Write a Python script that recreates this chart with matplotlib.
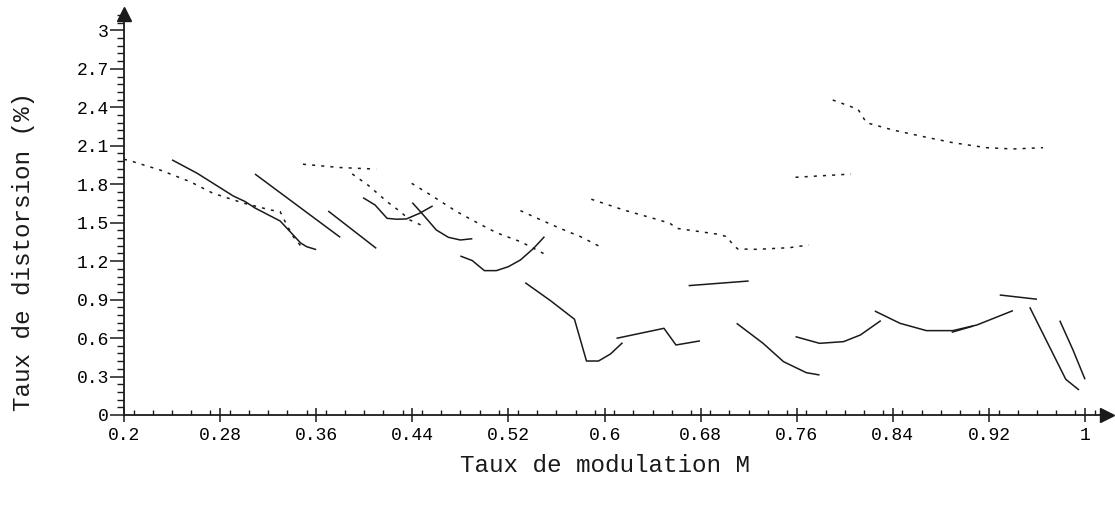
"""
Taux de distorsion en fonction du taux de modulation M
"""

import matplotlib
matplotlib.use('Agg')
import matplotlib.pyplot as plt
from matplotlib.ticker import MultipleLocator, FixedLocator
import numpy as np

plt.rcParams['font.family'] = ['Liberation Mono', 'DejaVu Sans Mono']

# courbes en trait plein (M, taux de distorsion %)
m_s1 = [0.240, 0.261, 0.291, 0.301, 0.309, 0.330, 0.337, 0.347, 0.352, 0.360]
d_s1 = [1.99, 1.885, 1.708, 1.664, 1.615, 1.513, 1.443, 1.342, 1.313, 1.29]
m_s2 = [0.309, 0.380]
d_s2 = [1.88, 1.386]
m_s3 = [0.370, 0.410]
d_s3 = [1.591, 1.30]
m_s4 = [0.399, 0.409, 0.419, 0.427, 0.435, 0.446, 0.457]
d_s4 = [1.695, 1.638, 1.534, 1.527, 1.529, 1.573, 1.631]
m_s5 = [0.440, 0.448, 0.460, 0.470, 0.480, 0.490]
d_s5 = [1.656, 1.573, 1.443, 1.386, 1.365, 1.375]
m_s6 = [0.480, 0.490, 0.500, 0.510, 0.520, 0.530, 0.541, 0.550]
d_s6 = [1.24, 1.204, 1.126, 1.126, 1.157, 1.209, 1.30, 1.391]
m_s7 = [0.534, 0.555, 0.575, 0.585, 0.595, 0.605, 0.615]
d_s7 = [1.032, 0.892, 0.747, 0.421, 0.421, 0.476, 0.564]
m_s8 = [0.610, 0.6495, 0.6595, 0.6795]
d_s8 = [0.598, 0.676, 0.546, 0.578]
m_s9 = [0.670, 0.720]
d_s9 = [1.009, 1.045]
m_s10 = [0.710, 0.732, 0.749, 0.768, 0.779]
d_s10 = [0.715, 0.559, 0.416, 0.33, 0.312]
m_s11 = [0.759, 0.779, 0.799, 0.813, 0.830]
d_s11 = [0.611, 0.559, 0.572, 0.624, 0.736]
m_s12 = [0.825, 0.846, 0.868, 0.890, 0.910, 0.940]
d_s12 = [0.811, 0.715, 0.658, 0.658, 0.702, 0.814]
m_s13 = [0.889, 0.907]
d_s13 = [0.645, 0.694]
m_s14 = [0.929, 0.960]
d_s14 = [0.936, 0.903]
m_s15 = [0.954, 0.984, 0.995]
d_s15 = [0.84, 0.278, 0.195]
m_s16 = [0.979, 0.990, 1.000]
d_s16 = [0.736, 0.507, 0.278]

# courbes en pointillé
m_p1 = [0.200, 0.2075, 0.230, 0.255, 0.274, 0.299, 0.3215, 0.330, 0.3355, 0.341, 0.3465, 0.349]
d_p1 = [1.995, 1.976, 1.911, 1.82, 1.73, 1.654, 1.60, 1.586, 1.482, 1.39, 1.326, 1.29]
m_p2 = [0.349, 0.380, 0.410]
d_p2 = [1.956, 1.93, 1.918]
m_p3 = [0.390, 0.403, 0.419, 0.430, 0.438, 0.449]
d_p3 = [1.88, 1.794, 1.664, 1.586, 1.521, 1.474]
m_p4 = [0.4395, 0.4575, 0.477, 0.496, 0.510, 0.530, 0.541, 0.550]
d_p4 = [1.807, 1.703, 1.586, 1.49, 1.422, 1.352, 1.30, 1.256]
m_p5 = [0.530, 0.546, 0.563, 0.580, 0.598]
d_p5 = [1.594, 1.526, 1.456, 1.391, 1.305]
m_p6 = [0.589, 0.616, 0.6435, 0.6545, 0.660, 0.693, 0.702, 0.707, 0.711, 0.727, 0.754, 0.770]
d_p6 = [1.683, 1.599, 1.526, 1.495, 1.456, 1.412, 1.391, 1.326, 1.295, 1.292, 1.305, 1.326]
m_p7 = [0.759, 0.805]
d_p7 = [1.854, 1.879]
m_p8 = [0.790, 0.811, 0.818, 0.840, 0.868, 0.890, 0.918, 0.940, 0.965]
d_p8 = [2.457, 2.385, 2.28, 2.223, 2.166, 2.124, 2.085, 2.075, 2.085]

x_ticks = [0.2, 0.28, 0.36, 0.44, 0.52, 0.6, 0.68, 0.76, 0.84, 0.92, 1]
x_ticklabels = ['0.2', '0.28', '0.36', '0.44', '0.52', '0.6', '0.68', '0.76', '0.84', '0.92', '1']
y_ticks = [0, 0.3, 0.6, 0.9, 1.2, 1.5, 1.8, 2.1, 2.4, 2.7, 3]
y_ticklabels = ['0', '0.3', '0.6', '0.9', '1.2', '1.5', '1.8', '2.1', '2.4', '2.7', '3']

fig = plt.figure(figsize=(11.15, 5.08), dpi=100)
ax = fig.add_axes([0.1112, 0.1831, 0.8813, 0.7894])

solides = [(m_s1, d_s1), (m_s2, d_s2), (m_s3, d_s3), (m_s4, d_s4), (m_s5, d_s5),
           (m_s6, d_s6), (m_s7, d_s7), (m_s8, d_s8), (m_s9, d_s9), (m_s10, d_s10),
           (m_s11, d_s11), (m_s12, d_s12), (m_s13, d_s13), (m_s14, d_s14),
           (m_s15, d_s15), (m_s16, d_s16)]
pointilles = [(m_p1, d_p1), (m_p2, d_p2), (m_p3, d_p3), (m_p4, d_p4),
              (m_p5, d_p5), (m_p6, d_p6), (m_p7, d_p7), (m_p8, d_p8)]

for mx, dy in solides:
    ax.plot(mx, dy, color='#1a1a1a', lw=1.1, solid_capstyle='butt')
for mx, dy in pointilles:
    ax.plot(mx, dy, color='#1a1a1a', lw=1.1, linestyle=(0, (2, 4)))

xmax, ymax = 1.018, 3.128
ax.set_xlim(0.2, xmax)
ax.set_ylim(0, ymax)

# axes avec flèches
for s in ['top', 'right']:
    ax.spines[s].set_visible(False)
for s in ['left', 'bottom']:
    ax.spines[s].set_linewidth(1.3)
    ax.spines[s].set_color('#1a1a1a')
ax.plot([0.2], [ymax], marker='^', ms=10, color='#1a1a1a', clip_on=False)
ax.plot([xmax], [0], marker='>', ms=10, color='#1a1a1a', clip_on=False)

ax.xaxis.set_major_locator(FixedLocator(x_ticks))
ax.set_xticklabels(x_ticklabels)
ax.xaxis.set_minor_locator(MultipleLocator(0.016))
ax.yaxis.set_major_locator(FixedLocator(y_ticks))
ax.set_yticklabels(y_ticklabels)
ax.yaxis.set_minor_locator(MultipleLocator(0.06))

ax.tick_params(axis='x', which='major', direction='inout', length=10, width=1.1,
               labelsize=13, pad=4, color='#1a1a1a')
ax.tick_params(axis='x', which='minor', direction='in', length=3.5, width=1.0,
               color='#1a1a1a')
ax.tick_params(axis='y', which='major', direction='out', length=10, width=1.1,
               labelsize=13, pad=1, color='#1a1a1a')
ax.tick_params(axis='y', which='minor', direction='out', length=5, width=1.0,
               color='#1a1a1a')

fig.text(0.0215, 0.505, 'Taux de distorsion (%)', rotation=90,
         ha='center', va='center', fontsize=17.5, color='#1a1a1a')
fig.text(0.5426, 0.0827, 'Taux de modulation M',
         ha='center', va='center', fontsize=17.5, color='#1a1a1a')

plt.savefig('out.png', dpi=100)
plt.close()
